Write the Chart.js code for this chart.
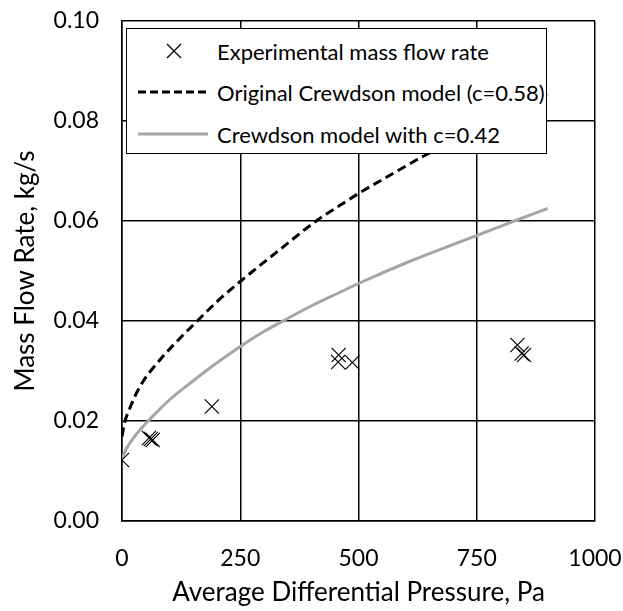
<!DOCTYPE html>
<html>
<head>
<meta charset="utf-8">
<script src="https://cdn.jsdelivr.net/npm/chart.js@4.4.1/dist/chart.umd.min.js"></script>
<style>
  html, body { margin: 0; padding: 0; background: #fff; }
  #wrap { position: relative; width: 623px; height: 611px; font-family: Lato, sans-serif; }
  #legend {
    position: absolute; left: 126px; top: 28px; width: 419px; height: 124px;
    border: 1.5px solid #000; background: #fff; font-size: 22px; color: #000;
  }
  .row { position: absolute; left: 0; height: 30px; display: flex; align-items: center; white-space: nowrap; }
  .row svg { margin-left: 11px; margin-right: 9px; }
</style>
</head>
<body>
<div id="wrap">
  <canvas id="chart" width="623" height="611"></canvas>
  <div id="legend"></div>
</div>
<script>
// experimental points
const expX = [0, 57, 61, 65, 190, 457, 458, 487, 836, 845, 850];
const expY = [0.0122, 0.0166, 0.0164, 0.0162, 0.0229, 0.0318, 0.0332, 0.0317, 0.0352, 0.0335, 0.0332];

// original Crewdson model (c=0.58)
const origX = [0, 5, 15, 38, 80, 120, 158, 200, 250, 330, 409, 462, 500, 560, 638, 700, 800, 900];
const origY = [0.0169, 0.0195, 0.0222, 0.0269, 0.0322, 0.0363, 0.0399, 0.0438, 0.0479, 0.0540, 0.0599, 0.0632, 0.0655, 0.0688, 0.0730, 0.0760, 0.0808, 0.0853];

// Crewdson model with c=0.42
const fitX = [0, 10, 25, 50, 75, 100, 150, 190, 250, 300, 350, 400, 462, 500, 600, 700, 753, 829, 900];
const fitY = [0.0125, 0.0146, 0.0167, 0.0195, 0.0219, 0.0242, 0.0280, 0.0309, 0.0349, 0.0379, 0.0405, 0.0430, 0.0458, 0.0475, 0.0516, 0.0553, 0.0572, 0.0600, 0.0625];

const xTicks = [0, 250, 500, 750, 1000];
const yTicks = [0, 0.02, 0.04, 0.06, 0.08, 0.10];

const labels = ['Experimental mass flow rate', 'Original Crewdson model (c=0.58)', 'Crewdson model with c=0.42'];

const pts = (xs, ys) => xs.map((x, i) => ({ x, y: ys[i] }));
const FONT = 'Lato, sans-serif';

new Chart(document.getElementById('chart'), {
  type: 'scatter',
  data: {
    datasets: [
      { label: labels[0], data: pts(expX, expY), showLine: false, pointStyle: 'crossRot', pointRadius: 10, borderColor: '#000', borderWidth: 1.2, backgroundColor: '#000' },
      { label: labels[1], data: pts(origX, origY), showLine: true, pointRadius: 0, borderColor: '#000', borderWidth: 3, borderDash: [9, 5], cubicInterpolationMode: 'monotone' },
      { label: labels[2], data: pts(fitX, fitY), showLine: true, pointRadius: 0, borderColor: '#a6a6a6', borderWidth: 3, cubicInterpolationMode: 'monotone' },
    ],
  },
  options: {
    responsive: false,
    animation: false,
    layout: { padding: { left: 0, right: 28, top: 21, bottom: 0 } },
    plugins: { legend: { display: false }, tooltip: { enabled: false } },
    scales: {
      x: {
        type: 'linear', min: 0, max: 1000,
        afterFit: s => { s.height = 90; s.paddingLeft = 0; s.paddingRight = 0; },
        afterBuildTicks: s => { s.ticks = xTicks.map(v => ({ value: v })); },
        ticks: { color: '#000', font: { family: FONT, size: 23 }, padding: 24, callback: v => String(v) },
        grid: { color: '#000', lineWidth: 1.5, drawTicks: false },
        border: { color: '#000', width: 1.5 },
        title: { display: true, text: 'Average Differential Pressure, Pa', color: '#000', font: { family: FONT, size: 26 }, padding: { top: 0, bottom: 3 } },
      },
      y: {
        type: 'linear', min: 0, max: 0.1,
        afterFit: s => { s.width = 122; s.paddingTop = 0; s.paddingBottom = 0; },
        afterBuildTicks: s => { s.ticks = yTicks.map(v => ({ value: v })); },
        ticks: { color: '#000', font: { family: FONT, size: 23 }, padding: 23, callback: v => v.toFixed(2) },
        grid: { color: '#000', lineWidth: 1.5, drawTicks: false },
        border: { color: '#000', width: 1.5 },
        title: { display: true, text: 'Mass Flow Rate, kg/s', color: '#000', font: { family: FONT, size: 26 }, padding: { top: 10, bottom: 0 } },
      },
    },
  },
});

// legend inside the plot, like the original
const swatches = [
  '<line x1="29" y1="8" x2="43" y2="22" stroke="#000" stroke-width="1.2"/><line x1="43" y1="8" x2="29" y2="22" stroke="#000" stroke-width="1.2"/>',
  '<line x1="0" y1="15" x2="70" y2="15" stroke="#000" stroke-width="3" stroke-dasharray="8,4"/>',
  '<line x1="0" y1="15" x2="70" y2="15" stroke="#a6a6a6" stroke-width="3"/>',
];
const rowTops = [7, 48, 90];
document.getElementById('legend').innerHTML = labels.map((t, i) =>
  `<div class="row" style="top:${rowTops[i]}px"><svg width="70" height="30">${swatches[i]}</svg><span>${t}</span></div>`
).join('');
</script>
</body>
</html>
